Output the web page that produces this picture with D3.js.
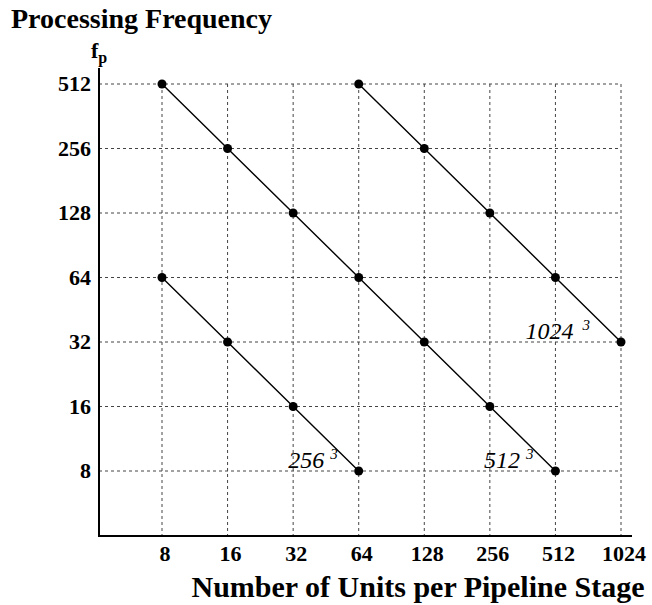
<!DOCTYPE html>
<html><head><meta charset="utf-8">
<script src="https://cdn.jsdelivr.net/npm/d3@7"></script>
<style>body{margin:0;background:#fff}</style>
</head><body>
<script>
const xTicks = [8,16,32,64,128,256,512,1024];
const yTicks = [8,16,32,64,128,256,512];
const series256 = [[8,64],[16,32],[32,16],[64,8]];
const series512 = [[8,512],[16,256],[32,128],[64,64],[128,32],[256,16],[512,8]];
const series1024 = [[64,512],[128,256],[256,128],[512,64],[1024,32]];
const labelNames = ["256","512","1024"];
const allSeries = [series256, series512, series1024];

const W=652,H=605;
const svg=d3.select("body").append("svg").attr("width",W).attr("height",H)
  .style("font-family","'Liberation Serif','Times New Roman',serif");

const x=d3.scaleLog().base(2).domain([8,1024]).range([162,621]);
const y=d3.scaleLog().base(2).domain([8,512]).range([471,84]);
const axX=99, axY=536, axTop=68, axRight=632;

// grid
const g=svg.append("g");
g.selectAll(".vg").data(xTicks).join("line")
  .attr("x1",d=>x(d)).attr("x2",d=>x(d)).attr("y1",y(512)).attr("y2",axY)
  .attr("stroke","#444").attr("stroke-width",1).attr("stroke-dasharray","3,3");
g.selectAll(".hg").data(yTicks).join("line")
  .attr("x1",axX).attr("x2",x(1024)).attr("y1",d=>y(d)).attr("y2",d=>y(d))
  .attr("stroke","#444").attr("stroke-width",1).attr("stroke-dasharray","3,3");

// axes lines
svg.append("line").attr("x1",axX).attr("x2",axX).attr("y1",axTop).attr("y2",axY+1)
  .attr("stroke","#000").attr("stroke-width",2);
svg.append("line").attr("x1",axX).attr("x2",axRight).attr("y1",axY).attr("y2",axY)
  .attr("stroke","#000").attr("stroke-width",2);

// tick labels
svg.selectAll(".yt").data(yTicks).join("text")
  .attr("x",91).attr("y",d=>y(d)+7).attr("text-anchor","end")
  .attr("font-weight","bold").attr("font-size",22).text(d=>d);
svg.selectAll(".xt").data(xTicks).join("text")
  .attr("x",d=>x(d)+3).attr("y",561).attr("text-anchor","middle")
  .attr("font-weight","bold").attr("font-size",22).text(d=>d);

// titles
svg.append("text").attr("x",11).attr("y",28).attr("font-weight","bold").attr("font-size",28)
  .text("Processing Frequency");
const fp=svg.append("text").attr("x",91).attr("y",58).attr("font-weight","bold").attr("font-size",22);
fp.append("tspan").text("f");
fp.append("tspan").attr("font-size",16).attr("dy",5).text("p");
svg.append("text").attr("x",418).attr("y",597).attr("text-anchor","middle")
  .attr("font-weight","bold").attr("font-size",30).text("Number of Units per Pipeline Stage");

// series
const line=d3.line().x(d=>x(d[0])).y(d=>y(d[1]));
allSeries.forEach(s=>{
  svg.append("path").attr("d",line(s)).attr("fill","none").attr("stroke","#000").attr("stroke-width",1.4);
  svg.selectAll(null).data(s).join("circle").attr("cx",d=>x(d[0])).attr("cy",d=>y(d[1])).attr("r",4.5).attr("fill","#000");
});

// labels, right end placed left of each series' last point
const labelGap=[21,22,31];
labelNames.forEach((n,i)=>{
  const a=allSeries[i][allSeries[i].length-1];
  const t=svg.append("text").attr("x",x(a[0])-labelGap[i]).attr("y",y(a[1])-3)
    .attr("font-style","italic").attr("font-size",24).attr("text-anchor","end");
  t.append("tspan").text(n);
  t.append("tspan").attr("font-size",15).attr("dx",i===2?9:6).attr("dy",-9).text("3");
});
</script>
</body></html>
